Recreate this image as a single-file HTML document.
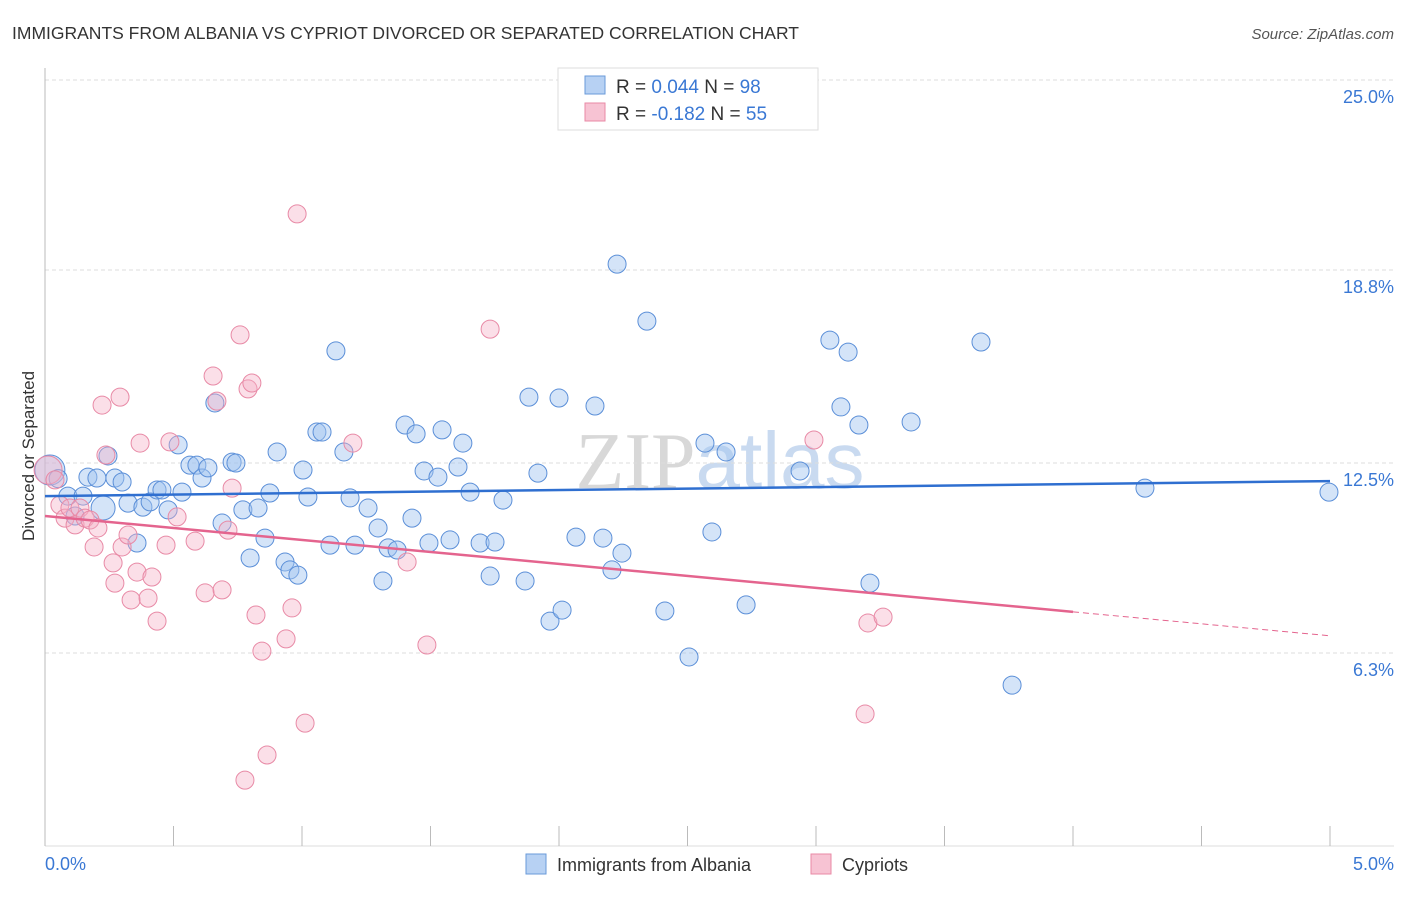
<!DOCTYPE html>
<html><head><meta charset="utf-8"><style>
body{margin:0;background:#fff;font-family:"Liberation Sans",sans-serif;}
svg text{font-family:"Liberation Sans",sans-serif;}
</style></head><body>
<svg id="chart" width="1406" height="892" xmlns="http://www.w3.org/2000/svg">
<text x="12" y="39" font-size="17.5" fill="#333">IMMIGRANTS FROM ALBANIA VS CYPRIOT DIVORCED OR SEPARATED CORRELATION CHART</text>
<text x="1394" y="39" font-size="15" fill="#555" text-anchor="end" font-style="italic">Source: ZipAtlas.com</text>
<text x="720" y="488" font-size="80" text-anchor="middle" fill="#dde3ea"><tspan font-family="Liberation Serif" fill="#d8d8d8">ZIP</tspan><tspan fill="#c9daf0">atlas</tspan></text>
<g id="grid"></g><g id="axes"></g><g id="pts"></g><g id="lines"></g>
<text transform="translate(34,456) rotate(-90)" font-size="17" fill="#333" text-anchor="middle">Divorced or Separated</text>
<g>
<rect x="558" y="68" width="260" height="62" fill="#fff" stroke="#ddd"/>
<rect x="585" y="76" width="20" height="18" fill="#b7d1f3" stroke="#6a9ad8"/>
<rect x="585" y="103" width="20" height="18" fill="#f7c3d3" stroke="#e88aa6"/>
<text x="616" y="93" font-size="19" fill="#333">R = <tspan fill="#3a78d4">0.044</tspan>   N = <tspan fill="#3a78d4">98</tspan></text>
<text x="616" y="120" font-size="19" fill="#333">R = <tspan fill="#3a78d4">-0.182</tspan>   N = <tspan fill="#3a78d4">55</tspan></text>
</g>
<g>
<rect x="526" y="854" width="20" height="20" fill="#b7d1f3" stroke="#6a9ad8"/>
<text x="557" y="871" font-size="18" fill="#333">Immigrants from Albania</text>
<rect x="811" y="854" width="20" height="20" fill="#f7c3d3" stroke="#e88aa6"/>
<text x="842" y="871" font-size="18" fill="#333">Cypriots</text>
</g>
</svg>
<script>
const yTicks=[25.0,18.8,12.5,6.3];
const yTickLabels=["25.0%","18.8%","12.5%","6.3%"];
const xTickLabels=["0.0%","5.0%"];
const blueX=[.019,.051,.089,.117,.148,.167,.202,.226,.245,.272,.300,.323,.358,.381,.409,.436,.455,.479,.518,.533,.564,.591,.611,.634,.661,.689,.728,.743,.770,.798,.829,.856,.875,.903,.934,.953,.984,1.004,1.023,1.058,1.078,1.109,1.132,1.163,1.187,1.206,1.257,1.296,1.315,1.335,1.370,1.401,1.428,1.444,1.475,1.494,1.529,1.545,1.576,1.607,1.626,1.654,1.693,1.732,1.751,1.782,1.868,1.883,1.918,1.965,2.000,2.012,2.066,2.140,2.171,2.206,2.226,2.245,2.342,2.412,2.506,2.568,2.595,2.650,2.728,2.938,3.054,3.097,3.125,3.167,3.210,3.370,3.642,3.763,4.280,4.996];
const blueY=[12.27,11.99,11.42,10.77,11.42,12.04,12.01,11.03,12.73,12.01,11.88,11.19,9.89,11.06,11.23,11.62,11.62,10.97,13.09,11.55,12.43,12.43,12.01,12.34,14.46,10.54,12.53,12.50,10.97,9.40,11.03,10.05,11.52,12.86,9.27,9.01,8.84,12.27,11.39,13.51,13.51,9.82,16.16,12.86,11.36,9.82,11.03,10.38,8.65,9.73,9.66,13.74,10.70,13.45,12.24,9.89,12.04,13.58,9.99,12.37,13.15,11.55,9.89,8.81,9.92,11.29,8.65,14.65,12.17,7.34,14.62,7.70,10.08,14.36,10.05,9.01,18.99,9.56,17.13,7.67,6.17,13.15,10.25,12.86,7.87,12.24,16.51,14.33,16.12,13.74,8.58,13.84,16.45,5.25,11.68,11.55];
const pinkX=[.012,.039,.058,.078,.097,.117,.136,.156,.175,.191,.206,.222,.237,.265,.272,.292,.300,.323,.335,.358,.370,.401,.416,.436,.471,.486,.514,.584,.623,.654,.669,.689,.712,.728,.759,.790,.805,.778,.821,.844,.864,.938,.961,.981,1.012,1.198,1.409,1.486,1.732,2.992,3.191,3.202,3.261];
const pinkY=[12.27,11.95,11.13,10.70,11.03,10.48,11.03,10.70,10.64,9.76,10.38,14.39,12.76,9.24,8.58,14.65,9.76,10.15,8.03,8.94,13.15,8.09,8.78,7.34,9.82,13.19,10.74,9.95,8.26,15.34,14.52,8.36,10.31,11.68,16.68,14.92,15.11,2.15,7.54,6.36,2.97,6.76,7.77,20.63,4.01,13.15,9.27,6.56,16.87,13.25,4.31,7.28,7.47];
const blueFit=[11.42,11.91];
const pinkFit=[10.77,6.86];
const NS="http://www.w3.org/2000/svg";
const X=v=>45+v*257;
const Y=v=>846-v*30.64;
function mk(t,a,p){const e=document.createElementNS(NS,t);for(const k in a)e.setAttribute(k,a[k]);p.appendChild(e);return e;}
const grid=document.getElementById('grid'),axes=document.getElementById('axes'),pts=document.getElementById('pts'),lines=document.getElementById('lines');
yTicks.forEach((v,i)=>{
 const l=mk('line',{x1:45,x2:1394,y1:Y(v),y2:Y(v),stroke:'#ddd','stroke-dasharray':'4,3'},grid);
 
 
 const t=mk('text',{x:1394,y:Y(v)+23,'font-size':18,fill:'#3a78d4','text-anchor':'end'},axes);
 t.textContent=yTickLabels[i];
 
 
});
const ya=mk('line',{x1:45,x2:45,y1:68,y2:846,stroke:'#bbb'},axes);


const xa=mk('line',{x1:45,x2:1394,y1:846,y2:846,stroke:'#ddd'},axes);


for(let i=0;i<=10;i++){const tk=mk('line',{x1:X(i*0.5),x2:X(i*0.5),y1:826,y2:846,stroke:'#bbb'},axes);
 
 }
[[0,'start',45],[5,'end',1394]].forEach((d,i)=>{const t=mk('text',{x:d[2],y:870,'font-size':18,fill:'#3a78d4','text-anchor':d[1]},axes);t.textContent=xTickLabels[i];
 
 });
blueX.forEach((x,i)=>{const c=mk('circle',{cx:X(x),cy:Y(blueY[i]),r:i<1?15:(i==7?12:9),fill:'rgba(160,196,240,0.45)',stroke:'#5b8fd8','stroke-width':1},pts);
 
 });
pinkX.forEach((x,i)=>{const c=mk('circle',{cx:X(x),cy:Y(pinkY[i]),r:i<1?14:9,fill:'rgba(245,175,198,0.4)',stroke:'#e88aa6','stroke-width':1},pts);
 
 });
const bl=mk('line',{x1:X(0),y1:Y(blueFit[0]),x2:X(5),y2:Y(blueFit[1]),stroke:'#2f6fd0','stroke-width':2.5},lines);


const pm=pinkFit[0]+(pinkFit[1]-pinkFit[0])*0.8;
const pl=mk('line',{x1:X(0),y1:Y(pinkFit[0]),x2:X(4),y2:Y(pm),stroke:'#e4648e','stroke-width':2.5},lines);


const pd=mk('line',{x1:X(4),y1:Y(pm),x2:X(5),y2:Y(pinkFit[1]),stroke:'#e4648e','stroke-width':1,'stroke-dasharray':'6,4'},lines);


</script>
</body></html>
